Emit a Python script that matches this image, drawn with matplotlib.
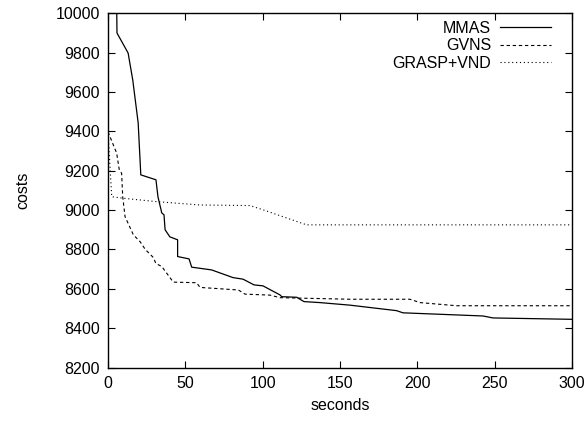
import matplotlib
matplotlib.use("Agg")
import matplotlib.pyplot as plt

plt.rcParams['font.family'] = ['Liberation Sans', 'DejaVu Sans']

# best-so-far costs over run time
mmas_t = [5.5, 5.8, 13, 16, 19.5, 21.2, 31, 32.3, 34.3, 34.7, 36.2, 36.9, 40, 45, 45,
          52.4, 54.1, 67, 80.8, 87.3, 94.4, 100.2, 111.2, 112.3, 122, 126.7, 137,
          156.4, 186.6, 190.7, 242.4, 248.9, 300]
mmas_c = [10100, 9900, 9798, 9661, 9443, 9179, 9154, 9067, 9001, 8986, 8976, 8900, 8864, 8849, 8764,
          8752, 8710, 8696, 8657, 8649, 8620, 8615, 8569, 8560, 8557, 8535, 8530,
          8517, 8489, 8478, 8462, 8452, 8445]

gvns_t = [0, 5.6, 7.3, 8.8, 9.5, 11, 16.4, 20.7, 24, 29.3, 31, 34.7, 42.2, 57.3, 59.5,
          69.2, 84.3, 88.6, 104.7, 111.2, 156.4, 195.2, 201.7, 225.4, 300]
gvns_c = [9398, 9289, 9204, 9187, 9068, 8967, 8874, 8840, 8801, 8759, 8728, 8714, 8634, 8631, 8607,
          8602, 8594, 8573, 8568, 8555, 8547, 8547, 8530, 8514, 8514]

grasp_t = [0, 2.4, 10, 31.4, 59.5, 91.8, 100.4, 128.4, 300]
grasp_c = [9398, 9068, 9060, 9043, 9026, 9023, 9001, 8925, 8925]

fig = plt.figure(figsize=(5.88, 4.21), dpi=100)
ax = fig.add_axes([0.1837, 0.127, 0.7891, 0.8414])

ax.plot(mmas_t, mmas_c, color='black', lw=0.9, label='MMAS')
ax.plot(gvns_t, gvns_c, color='black', lw=0.8, linestyle=(0, (3, 2.5)), label='GVNS')
ax.plot(grasp_t, grasp_c, color='black', lw=0.8, linestyle=(0, (1, 2.5)), label='GRASP+VND')

ax.set_xlim(0, 300)
ax.set_ylim(8200, 10000)
ax.set_xticks(range(0, 301, 50))
ax.set_yticks(range(8200, 10001, 200))
ax.tick_params(direction='in', top=True, right=True, length=5, width=0.8,
               labelsize=11.5, pad=6)
for s in ax.spines.values():
    s.set_linewidth(1.0)

ax.set_xlabel('seconds', fontsize=11.5, labelpad=5)
ax.set_ylabel('costs', fontsize=11.5, labelpad=18)

# gnuplot-style key: label first, sample on the right
ax.legend(loc='upper right', bbox_to_anchor=(0.9655, 0.993), frameon=False,
          markerfirst=False, fontsize=11.5, handlelength=3.2, handletextpad=0.55,
          labelspacing=0.16, borderaxespad=0.0, borderpad=0.3)

fig.savefig('out.png', dpi=100)
